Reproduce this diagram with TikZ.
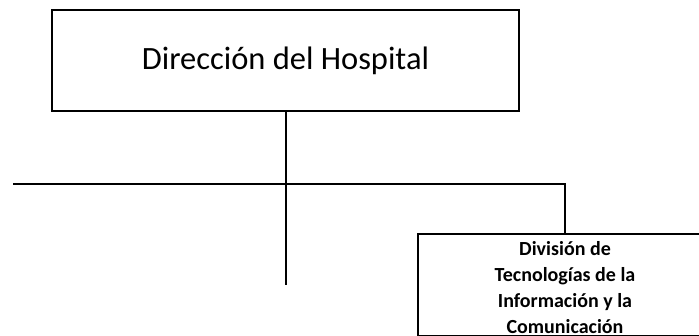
\documentclass[tikz,border=0pt]{standalone}
\usepackage{fontspec}
\setmainfont{Carlito}
\begin{document}
\begin{tikzpicture}[x=1pt,y=-1pt,
  line/.style={line width=2pt, black},
  boxstyle/.style={draw=black, line width=2pt, fill=white, inner sep=0pt, rectangle}]
\useasboundingbox (0,0) rectangle (699,335);
\clip (0,0) rectangle (699,335);
\node[boxstyle, minimum width=467pt, minimum height=101pt, font=\fontsize{32.5}{38}\selectfont]
  (dir) at (285.5,60.5) {Dirección del Hospital};
\coordinate (vend) at (285.5,285);
\coordinate (hl) at (13,183.7);
\node[boxstyle, minimum width=294pt, minimum height=102pt] (tic) at (565,284.5) {};
\node[inner sep=0pt, anchor=north, align=center, font=\bfseries\fontsize{20}{26}\selectfont]
  (tictext) at (565,241) {División de\\Tecnologías de la\\Información y la\\Comunicación};
\draw[line] (dir.south) -- (vend);
\draw[line] (hl) -| (tic.north);
\end{tikzpicture}
\end{document}
